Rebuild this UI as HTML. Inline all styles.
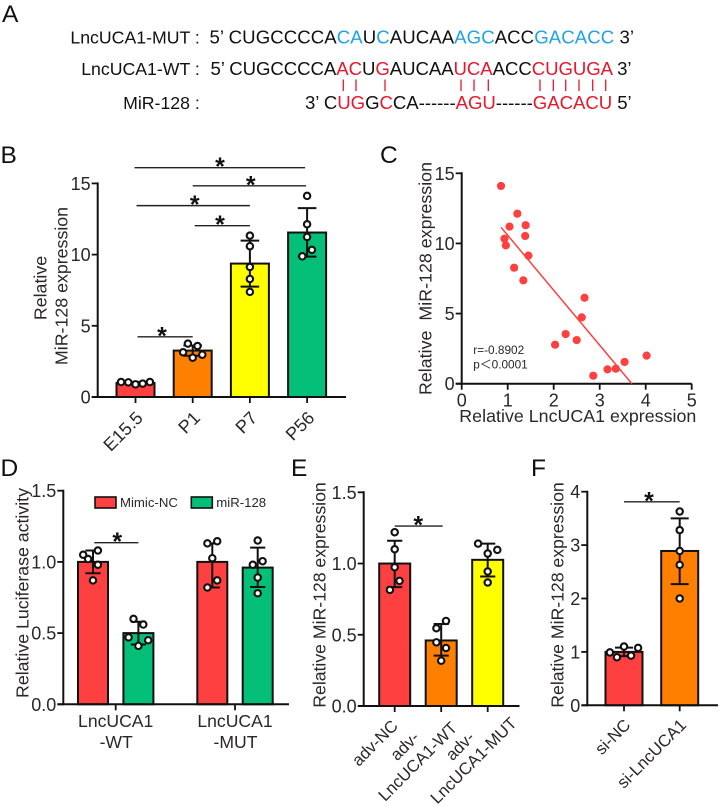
<!DOCTYPE html>
<html>
<head>
<meta charset="utf-8">
<title>LncUCA1 and MiR-128 figure</title>
<style>
html,body{margin:0;padding:0;background:#fff;}
svg{display:block;}
text{font-family:"Liberation Sans","Noto Sans CJK SC",sans-serif;fill:#2b2727;}
</style>
</head>
<body>
<svg id="figure" width="719" height="807" viewBox="0 0 719 807" xmlns="http://www.w3.org/2000/svg">
  <rect width="719" height="807" fill="#fff"/>
  <g font-size="24.5">
    <text x="2" y="22" style="fill:#111">A</text>
    <text x="0.5" y="163" style="fill:#111">B</text>
    <text x="380" y="163" style="fill:#111">C</text>
    <text x="0.5" y="476" style="fill:#111">D</text>
    <text x="291" y="476" style="fill:#111">E</text>
    <text x="531" y="476" style="fill:#111">F</text>
  </g>
  <g>
    <text font-size="17.7" x="199.8" y="43.3" text-anchor="end" style="fill:#111">LncUCA1-MUT :</text>
    <text font-size="17.7" x="199.8" y="75" text-anchor="end" style="fill:#111">LncUCA1-WT :</text>
    <text font-size="17.7" x="199.8" y="109" text-anchor="end" style="fill:#111">MiR-128 :</text>
    <text font-size="18.6" x="209.5" y="43.3" textLength="424.5" lengthAdjust="spacing" style="fill:#111">5’ CUGCCCCA<tspan style="fill:#1fa3e8">CA</tspan>U<tspan style="fill:#1fa3e8">C</tspan>AUCAA<tspan style="fill:#1fa3e8">AGC</tspan>ACC<tspan style="fill:#1fa3e8">GACACC</tspan> 3’</text>
    <text font-size="18.6" x="210.5" y="75" textLength="421" lengthAdjust="spacing" style="fill:#111">5’ CUGCCCCA<tspan style="fill:#e8172c">AC</tspan>U<tspan style="fill:#e8172c">G</tspan>AUCAA<tspan style="fill:#e8172c">UCA</tspan>ACC<tspan style="fill:#e8172c">CUGUGA</tspan> 3’</text>
    <text font-size="18.6" x="305" y="109" textLength="326.7" lengthAdjust="spacing" style="fill:#111">3’ C<tspan style="fill:#e8172c">UG</tspan>G<tspan style="fill:#e8172c">C</tspan>CA------<tspan style="fill:#e8172c">AGU</tspan>------<tspan style="fill:#e8172c">GACACU</tspan> 5’</text>
  </g>
  <path stroke="#e8172c" stroke-width="1.3" fill="none" d="M343.3 79.5V91M356 79.5V91M385 79.5V91M461 79.5V91M474 79.5V91M488.3 79.5V91M540 79.5V91M553.3 79.5V91M565.7 79.5V91M579 79.5V91M592.7 79.5V91M605.7 79.5V91"/>
</svg>
<script>
/* Panel B */
const bCategories = ['E15.5', 'P1', 'P7', 'P56'];
const bMeans = [0.98, 3.26, 9.37, 11.55];
const bErrLow = [0.9, 2.9, 7.75, 9.86];
const bErrHigh = [1.06, 3.62, 10.98, 13.26];
const bPoints = [[1.05, 1.03, 0.89, 0.94, 1.05], [3.14, 3.75, 2.76, 3.58, 2.97], [11.33, 10.59, 9.13, 8.29, 7.38], [14.12, 12.13, 11.24, 10.33, 9.88]];
const bSwarm = [[-3, -1.5, 0, 1.5, 3], [-2, -1, 0, 1, 2], [0, 0, 0, 0, 0], [0, 0, 0, 1, -1]];
const bTicks = [0, 5, 10, 15];
const bColors = ['#ff4040', '#ff8000', '#ffff00', '#04bf77'];

/* Panel C */
const cLncUCA1 = [0.855, 1.21, 1.04, 1.39, 1.38, 0.93, 0.96, 1.45, 1.14, 1.34, 2.67, 2.61, 2.26, 2.5, 2.03, 2.86, 3.17, 3.35, 3.54, 4.02];
const cMiR128 = [14.1, 12.12, 11.2, 11.3, 10.53, 10.34, 9.86, 9.13, 8.27, 7.37, 6.13, 4.73, 3.54, 3.11, 2.78, 0.57, 1.02, 1.07, 1.55, 2.0];
const cFitX = [0.855, 3.7];
const cFitY = [11.15, 0];
const cXTicks = [0, 1, 2, 3, 4, 5];
const cYTicks = [0, 5, 10, 15];

/* Panel D */
const dGroups = ['LncUCA1', 'LncUCA1'];
const dGroupSuffix = ['-WT', '-MUT'];
const dSeries = ['Mimic-NC', 'miR-128'];
const dMeans = [1.0, 0.5, 1.0, 0.96];
const dErrLow = [0.92, 0.42, 0.82, 0.824];
const dErrHigh = [1.08, 0.58, 1.13, 1.10];
const dPoints = [[1.05, 1.02, 1.08, 0.98, 0.87], [0.60, 0.56, 0.47, 0.45, 0.41], [1.13, 1.145, 1.026, 0.87, 0.82], [1.15, 1.005, 0.98, 0.89, 0.78]];
const dSwarm = [[-2, -1, 1, 1, 0], [-1, 1, -2, 2, 0], [-1, 1, 0, 1, -1], [0, 1, -1, 0, 0]];
const dTicks = ['0.0', '0.5', '1.0', '1.5'];
const dColors = ['#ff4040', '#04bf77', '#ff4040', '#04bf77'];

/* Panel E */
const eCategories = [['adv-NC'], ['adv-', 'LncUCA1-WT'], ['adv-', 'LncUCA1-MUT']];
const eMeans = [1.0, 0.46, 1.026];
const eErrLow = [0.834, 0.354, 0.909];
const eErrHigh = [1.16, 0.576, 1.14];
const ePoints = [[1.22, 1.10, 0.974, 0.878, 0.815], [0.597, 0.546, 0.447, 0.407, 0.318], [1.14, 1.096, 1.07, 0.944, 0.867]];
const eSwarm = [[0, 0, 0, 1, -1], [1, -1, -1, 1, 0], [-2, 2, 0, 0, 0]];
const eTicks = ['0.0', '0.5', '1.0', '1.5'];
const eColors = ['#ff4040', '#ff8000', '#ffff00'];

/* Panel F */
const fCategories = ['si-NC', 'si-LncUCA1'];
const fMeans = [1.0, 2.89];
const fErrLow = [0.92, 2.27];
const fErrHigh = [1.08, 3.5];
const fPoints = [[0.99, 0.90, 1.10, 0.93, 1.075], [3.63, 3.28, 2.89, 2.63, 2.0]];
const fSwarm = [[-3, -1.5, 0, 1.5, 3], [0, 0, 0, 0, 0]];
const fTicks = [0, 1, 2, 3, 4];
const fColors = ['#ff4040', '#ff8000'];

const svg = document.getElementById('figure');
const INK = '#111';

function make(tag, attrs, parent) {
  const el = document.createElementNS('http://www.w3.org/2000/svg', tag);
  for (const k in attrs) el.setAttribute(k, attrs[k]);
  parent.appendChild(el);
  return el;
}
function linear(d0, d1, r0, r1) {
  return v => r0 + (v - d0) / (d1 - d0) * (r1 - r0);
}
function label(parent, str, x, y, size, anchor, transform) {
  const el = make('text', { x: x, y: y, 'font-size': size, 'text-anchor': anchor }, parent);
  if (transform) el.setAttribute('transform', transform);
  el.textContent = str;
  return el;
}
function drawAxes(g, sy, ticks, axisX, xStart, xEnd, y0, topY) {
  const yAxis = make('line', { x1: axisX, x2: axisX, y1: topY - 1, y2: y0 + 1, stroke: INK, 'stroke-width': 2 }, g);
  
  
  const xAxis = make('line', { x1: xStart, x2: xEnd, y1: y0, y2: y0, stroke: INK, 'stroke-width': 2 }, g);
  
  
  ticks.forEach(t => {
    const v = Number(t);
    const tick = make('line', { x1: axisX - 6, x2: axisX, y1: sy(v), y2: sy(v), stroke: INK, 'stroke-width': 1.8 }, g);
    
    
    const tl = label(g, String(t), axisX - 7, sy(v) + 6.5, 18, 'end');
    
    
  });
}
function drawBars(g, cfg) {
  cfg.means.forEach((m, i) => {
    const cx = cfg.sx(i);
    const bar = make('rect', { x: cx - cfg.barW / 2, y: cfg.sy(m), width: cfg.barW, height: cfg.sy(0) - cfg.sy(m), fill: cfg.colors[i], stroke: INK, 'stroke-width': 2 }, g);
    
    
  });
  cfg.means.forEach((m, i) => {
    const cx = cfg.sx(i);
    const lo = cfg.sy(cfg.low[i]);
    const hi = cfg.sy(cfg.high[i]);
    const err = make('path', {
      d: 'M' + cx + ' ' + lo + 'V' + hi + 'M' + (cx - cfg.cap) + ' ' + lo + 'H' + (cx + cfg.cap) + 'M' + (cx - cfg.cap) + ' ' + hi + 'H' + (cx + cfg.cap),
      stroke: INK, 'stroke-width': 2, fill: 'none'
    }, g);
    
    
    cfg.points[i].forEach((p, j) => {
      const dot = make('circle', { cx: cx + cfg.swarm[i][j] * cfg.swarmStep, cy: cfg.sy(p), r: 3.2, fill: '#fff', stroke: INK, 'stroke-width': 2.1 }, g);
      
      
    });
  });
}
function drawBracket(g, x1, x2, y, starX) {
  const line = make('line', { x1: x1, x2: x2, y1: y, y2: y, stroke: '#222', 'stroke-width': 1.4 }, g);
  
  
  const star = label(g, '*', starX, y + 7.5, 25, 'middle');
  star.setAttribute('font-weight', 'bold');
  
  
  star.style.fill = '#111';
}
function xTickMark(g, x, y0) {
  const tick = make('line', { x1: x, x2: x, y1: y0, y2: y0 + 6, stroke: INK, 'stroke-width': 1.8 }, g);
  
  
}

/* ---------- B ---------- */
const gB = make('g', {}, svg);


const bY = linear(0, 15, 397, 183.4);
const bX = i => 135.5 + 57.2 * i;
drawBars(gB, { means: bMeans, low: bErrLow, high: bErrHigh, points: bPoints, swarm: bSwarm, swarmStep: 4.8, colors: bColors, sx: bX, sy: bY, barW: 38, cap: 9.3 });
drawAxes(gB, bY, bTicks, 97.7, 91.7, 346, 397, 183.4);
bCategories.forEach((c, i) => {
  xTickMark(gB, bX(i), 397);
  const t = label(gB, c, 0, 0, 18, 'end', 'translate(' + (bX(i) + 8.5) + ' 419) rotate(-45)');
  
  
});
const bTitle1 = label(gB, 'Relative', 0, 0, 17.8, 'middle', 'translate(46.5 288) rotate(-90)');


const bTitle2 = label(gB, 'MiR-128 expression', 0, 0, 17.8, 'middle', 'translate(67.5 286) rotate(-90)');


drawBracket(gB, bX(0) - 1, bX(3) - 2, bY(16.1), 220);
drawBracket(gB, bX(1), bX(3) - 1, bY(14.83), 250.7);
drawBracket(gB, bX(0) + 1, bX(2), bY(13.44), 194.7);
drawBracket(gB, bX(1) + 2, bX(2), bY(12.03), 220);
drawBracket(gB, bX(0) + 2, bX(1), bY(4.23), 162);

/* ---------- C ---------- */
const gC = make('g', {}, svg);


const cX = linear(0, 5, 461.7, 691.7);
const cY = linear(0, 15, 383.7, 173.3);
drawAxes(gC, cY, cYTicks, cX(0), cX(0) - 6, cX(5), cY(0), cY(15));
cXTicks.forEach(t => {
  xTickMark(gC, cX(t), cY(0));
  const tl = label(gC, String(t), cX(t), 406.7, 18, 'middle');
  
  
});
const fit = make('line', { x1: cX(cFitX[0]), y1: cY(cFitY[0]), x2: cX(cFitX[1]), y2: cY(cFitY[1]), stroke: '#ff4040', 'stroke-width': 1.5 }, gC);


cLncUCA1.forEach((x, i) => {
  const dot = make('circle', { cx: cX(x), cy: cY(cMiR128[i]), r: 4.1, fill: '#ff4040' }, gC);
  
  
});
const cXTitle = label(gC, 'Relative LncUCA1 expression', 577.8, 422, 17.8, 'middle');
cXTitle.setAttribute('textLength', '237');


const cYTitle = label(gC, 'Relative  MiR-128 expression', 0, 0, 17.8, 'middle', 'translate(431.5 278.5) rotate(-90)');
cYTitle.setAttribute('xml:space', 'preserve');
cYTitle.style.whiteSpace = 'pre';
cYTitle.setAttribute('textLength', '233');


const cR = label(gC, 'r=-0.8902', 473.3, 354, 11.8, 'start');


const cP = label(gC, 'p＜0.0001', 473.3, 368.7, 11.8, 'start');



/* ---------- D ---------- */
const gD = make('g', {}, svg);


const dY = linear(0, 1.5, 704.3, 490.7);
const dGroupX = k => 115.7 + 119.3 * k;
const dX = i => dGroupX(Math.floor(i / 2)) + (i % 2 === 0 ? -22.7 : 22.7);
drawBars(gD, { means: dMeans, low: dErrLow, high: dErrHigh, points: dPoints, swarm: dSwarm, swarmStep: 4.9, colors: dColors, sx: dX, sy: dY, barW: 30, cap: 7.6 });
drawAxes(gD, dY, dTicks, 63.3, 57.5, 289, 704.3, 490.7);
dGroups.forEach((c, k) => {
  xTickMark(gD, dGroupX(k), 704.3);
  const l1 = label(gD, c, dGroupX(k), 727, 17.6, 'middle');
  
  
  const l2 = label(gD, dGroupSuffix[k], dGroupX(k) + 0.5, 748, 17.6, 'middle');
  
  
});
const dTitle = label(gD, 'Relative Luciferase activity', 0, 0, 17.8, 'middle', 'translate(28.5 593) rotate(-90)');
dTitle.setAttribute('textLength', '210');


dSeries.forEach((s, i) => {
  const lx = i === 0 ? 95 : 191.3;
  const sw = make('rect', { x: lx, y: 497, width: 21, height: 11, fill: dColors[i], stroke: INK, 'stroke-width': 1.6 }, gD);
  
  
  const lt = label(gD, s, lx + 25, 507, 13.2, 'start');
  
  
});
drawBracket(gD, dX(0) + 1.3, dX(1), dY(1.135), 117.3);

/* ---------- E ---------- */
const gE = make('g', {}, svg);


const eY = linear(0, 1.5, 706, 492.3);
const eX = i => 394.7 + 46.5 * i;
drawBars(gE, { means: eMeans, low: eErrLow, high: eErrHigh, points: ePoints, swarm: eSwarm, swarmStep: 4.8, colors: eColors, sx: eX, sy: eY, barW: 31, cap: 7.6 });
drawAxes(gE, eY, eTicks, 363.7, 358, 519.5, 706, 492.3);
const eLabelOffsetX = [[-15.9], [-32.5, -19.5], [-23.7, -10.2]];
const eLabelBaseY = [[747], [750, 765.5], [750, 764.5]];
eCategories.forEach((lines, i) => {
  xTickMark(gE, eX(i), 706);
  lines.forEach((line, j) => {
    const ox = eX(i) + eLabelOffsetX[i][j];
    const oy = eLabelBaseY[i][j];
    const t = label(gE, line, 0, 0, 16.8, 'middle', 'translate(' + ox + ' ' + oy + ') rotate(-45)');
    
    
  });
});
const eTitle = label(gE, 'Relative MiR-128 expression', 0, 0, 17.7, 'middle', 'translate(325.3 595) rotate(-90)');
eTitle.setAttribute('textLength', '225.5');


drawBracket(gE, eX(0), eX(1) + 1.5, eY(1.263), 418.3);

/* ---------- F ---------- */
const gF = make('g', {}, svg);


const fY = linear(0, 4, 705.3, 491.7);
const fX = i => 624 + 55.7 * i;
drawBars(gF, { means: fMeans, low: fErrLow, high: fErrHigh, points: fPoints, swarm: fSwarm, swarmStep: 4.7, colors: fColors, sx: fX, sy: fY, barW: 37, cap: 9 });
drawAxes(gF, fY, fTicks, 587.3, 581.5, 718, 705.3, 491.7);
fCategories.forEach((c, i) => {
  xTickMark(gF, fX(i), 705.3);
  const t = label(gF, c, 0, 0, 16.8, 'end', 'translate(' + (fX(i) + 7.5) + ' 726) rotate(-45)');
  
  
});
const fTitle = label(gF, 'Relative MiR-128 expression', 0, 0, 17.7, 'middle', 'translate(563.3 595) rotate(-90)');
fTitle.setAttribute('textLength', '225.5');


drawBracket(gF, fX(0), fX(1), fY(3.81), 649);
</script>
</body>
</html>
